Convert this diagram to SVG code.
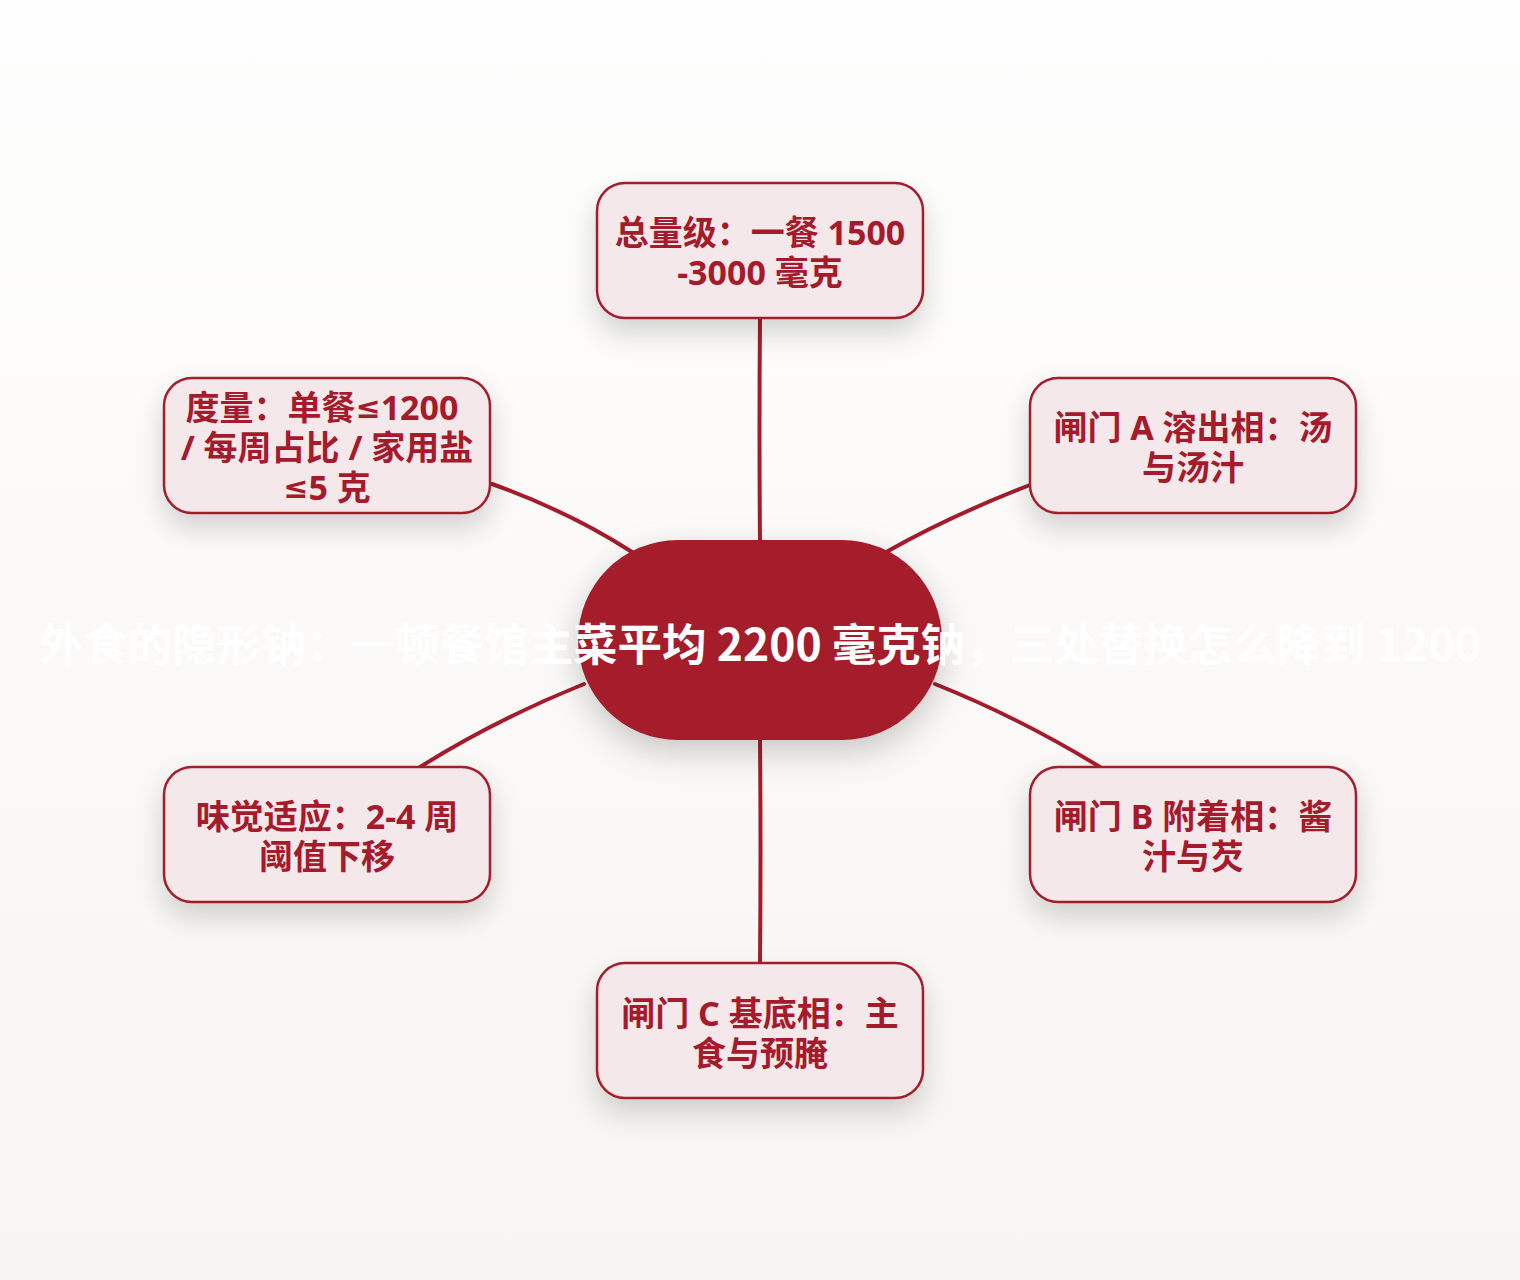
<svg xmlns="http://www.w3.org/2000/svg" width="1520" height="1280" viewBox="0 0 1520 1280">
<defs>
<linearGradient id="bg" x1="0" y1="0" x2="0" y2="1">
<stop offset="0" stop-color="#FEFEFE"/>
<stop offset="1" stop-color="#F7F5F1"/>
</linearGradient>
<filter id="sh" x="-30%" y="-30%" width="160%" height="180%">
<feDropShadow dx="0" dy="14" stdDeviation="14" flood-color="#000" flood-opacity="0.16"/>
</filter>
<filter id="shc" x="-30%" y="-30%" width="160%" height="180%">
<feDropShadow dx="0" dy="12" stdDeviation="16" flood-color="#000" flood-opacity="0.2"/>
</filter>
</defs>
<style>
.node rect{fill:#F5E8EB;stroke:#A51B2B;stroke-width:2.5;filter:url(#sh)}
.node text{font-family:"Noto Sans","Noto Sans CJK SC",sans-serif;font-weight:700;font-size:34px;fill:#A51B2B;text-anchor:middle;dominant-baseline:central}
.le{font-family:"DejaVu Sans",sans-serif;font-size:30px}
.edge{fill:none;stroke:#A51B2B;stroke-width:4;stroke-linecap:round}
.title{font-family:"Noto Sans CJK SC","Noto Sans",sans-serif;font-weight:700;font-size:44.5px;fill:#FFFFFF;text-anchor:middle;dominant-baseline:central}
</style>
<rect x="0" y="0" width="1520" height="1280" fill="url(#bg)"/>
<g id="connectors">
<path class="edge" d="M760 318 Q759 430 760 542"/>
<path class="edge" d="M760 740 Q761 850 760 963"/>
<path class="edge" d="M492 484 Q570 512 632 552"/>
<path class="edge" d="M1030 485 Q950 516 888 551"/>
<path class="edge" d="M584 684 Q495 720 420 767"/>
<path class="edge" d="M935 684 Q1020 718 1100 767"/>
</g>
<g id="center">
<rect x="578" y="540" width="364" height="200" rx="100" fill="#A51B2B" filter="url(#shc)"/>
<text class="title" x="760" y="641">外食的隐形钠：一顿餐馆主菜平均 2200 毫克钠，三处替换怎么降到 1200</text>
</g>
<g id="n-top" class="node">
<rect x="597" y="183" width="326" height="135" rx="28"/>
<text><tspan x="760" y="232">总量级：一餐 1500</tspan><tspan x="760" y="272">-3000 毫克</tspan></text>
</g>
<g id="n-lt" class="node">
<rect x="164" y="378" width="326" height="135" rx="28"/>
<text><tspan x="322" y="407">度量：单餐<tspan class="le">≤</tspan>1200</tspan><tspan x="327" y="447">/ 每周占比 / 家用盐</tspan><tspan x="327" y="487"><tspan class="le">≤</tspan>5 克</tspan></text>
</g>
<g id="n-rt" class="node">
<rect x="1030" y="378" width="326" height="135" rx="28"/>
<text><tspan x="1193" y="427">闸门 A 溶出相：汤</tspan><tspan x="1193" y="467">与汤汁</tspan></text>
</g>
<g id="n-lb" class="node">
<rect x="164" y="767" width="326" height="135" rx="28"/>
<text><tspan x="327" y="816">味觉适应：2-4 周</tspan><tspan x="327" y="856">阈值下移</tspan></text>
</g>
<g id="n-rb" class="node">
<rect x="1030" y="767" width="326" height="135" rx="28"/>
<text><tspan x="1193" y="816">闸门 B 附着相：酱</tspan><tspan x="1193" y="856">汁与芡</tspan></text>
</g>
<g id="n-bot" class="node">
<rect x="597" y="963" width="326" height="135" rx="28"/>
<text><tspan x="760" y="1013">闸门 C 基底相：主</tspan><tspan x="760" y="1053">食与预腌</tspan></text>
</g>
</svg>
